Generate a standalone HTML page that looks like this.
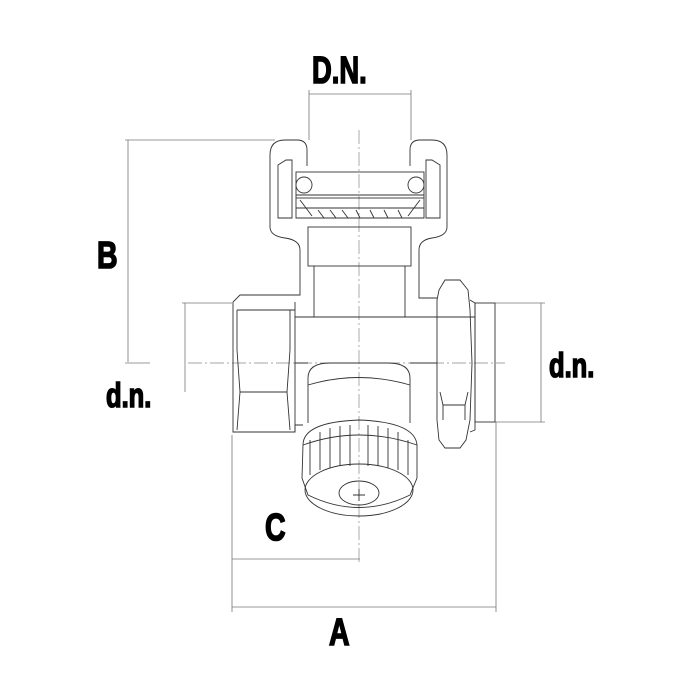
<!DOCTYPE html>
<html><head><meta charset="utf-8"><style>
html,body{margin:0;padding:0;background:#fff;width:700px;height:700px;overflow:hidden}
svg{display:block}
text{font-family:"Liberation Sans",sans-serif;font-weight:bold;fill:#000;stroke:#000;stroke-width:1.6}
</style></head><body>
<svg width="700" height="700" viewBox="0 0 700 700" xmlns="http://www.w3.org/2000/svg">
<g stroke="#777" stroke-width="0.8" fill="none">
<line x1="309" y1="94" x2="411" y2="94"/>
<line x1="309" y1="90" x2="309" y2="140"/>
<line x1="411" y1="90" x2="411" y2="140"/>
<line x1="125" y1="140" x2="275" y2="140"/>
<line x1="128" y1="140" x2="128" y2="362"/>
<line x1="125" y1="363" x2="150" y2="363"/>
<line x1="182" y1="303" x2="232" y2="303"/>
<line x1="185" y1="303" x2="185" y2="392"/>
<line x1="495" y1="303" x2="545" y2="303"/>
<line x1="495" y1="422" x2="545" y2="422"/>
<line x1="541" y1="303" x2="541" y2="422"/>
<line x1="232" y1="435" x2="232" y2="612"/>
<line x1="496" y1="422" x2="496" y2="612"/>
<line x1="232" y1="559" x2="360" y2="559"/>
<line x1="232" y1="607" x2="496" y2="607"/>
</g>
<g stroke="#888" stroke-width="0.7" fill="none" stroke-dasharray="14 3 2 3">
<line x1="359" y1="130" x2="359" y2="565"/>
<line x1="188" y1="363" x2="505" y2="363"/>
</g>
<g stroke="#333" stroke-width="0.9" fill="none">
<path d="M270 227 L270 155 Q270 140 285 140 L297 140 Q307 140 307 150 L307 166 M447 227 L447 155 Q447 140 432 140 L420 140 Q410 140 410 150 L410 166"/>
<path d="M270 227 Q270 236 285 238 Q300 240 300 250 L300 295 L240 295 L233 302 L233 432 L295 432 L295 425 L303 425 M447 227 Q447 236 432 238 Q419 240 419 250 L419 298 L437 298"/>
<path d="M278 218 L278 165 L286 160 L292 160 L292 218 Z M440 218 L440 165 L432 160 L426 160 L426 218 Z"/>
<rect x="296" y="172" width="128" height="26"/>
<circle cx="304" cy="185" r="8"/><circle cx="416" cy="185" r="8"/>
<line x1="296" y1="195" x2="424" y2="195"/>
<path d="M296 198 L296 218 L424 218 L424 198"/>
<path d="M300 200 L312 216 M420 200 L408 216 M318 210 L324 218 M330 210 L336 218 M342 210 L348 218 M356 210 L360 218 M370 210 L374 218 M384 210 L388 218 M398 210 L402 218"/>
<line x1="296" y1="208" x2="424" y2="208"/>
<rect x="308" y="227" width="103" height="39"/>
<line x1="314" y1="266" x2="314" y2="317"/>
<line x1="405" y1="266" x2="405" y2="317"/>
<path d="M295 317 L475 317 M295 363 L308 363 M410 363 L437 363"/>
<line x1="295" y1="302" x2="295" y2="432"/>
<line x1="237" y1="310" x2="295" y2="310"/>
<path d="M237 310 L237 350 L240 392 L237 430 M290 310 L290 350 L287 392 L290 430 M240 392 L287 392"/>
<path d="M445 280 L460 280 L468 290 L470 310 L472 363 L470 420 L466 440 L460 448 L445 448 L439 440 L437 420 L437 300 L439 290 Z"/>
<path d="M440 392 L443 405 L465 405 L468 392 M443 405 L443 420 M465 405 L465 420"/>
<path d="M470 300 L475 303 L475 430 L470 432"/>
<rect x="475" y="303" width="20" height="119"/>
<path d="M308 423 L308 378 Q308 363 330 363 L388 363 Q410 363 410 378 L410 423"/>
<path d="M308 385 Q359 370 410 385"/>
<path d="M303 445 Q303 422 359 420 Q415 422 417 445 L417 478 L410 495 Q359 520 308 495 L302 478 Z"/>
<path d="M303 445 Q359 425 417 445"/>
<path d="M310 440 L310 475 M320 432 L320 470 M330 428 L330 468 M340 426 L340 466 M350 425 L350 466 M368 425 L368 466 M378 426 L378 466 M388 428 L388 468 M398 432 L398 470 M408 440 L408 475"/>
<ellipse cx="359" cy="490" rx="54" ry="26"/>
<ellipse cx="359" cy="493" rx="20" ry="12"/>
<path d="M353 495 L365 495 M359 489 L359 501"/>
</g>
<g>
<text x="0" y="0" font-size="38" transform="translate(312,83) scale(0.72,1)">D.N.</text>
<text x="0" y="0" font-size="38" transform="translate(97,268) scale(0.75,1)">B</text>
<text x="0" y="0" font-size="34" transform="translate(106,407) scale(0.75,1)">d.n.</text>
<text x="0" y="0" font-size="34" transform="translate(549,377) scale(0.75,1)">d.n.</text>
<text x="0" y="0" font-size="38" transform="translate(265,540) scale(0.75,1)">C</text>
<text x="0" y="0" font-size="38" transform="translate(329,645) scale(0.75,1)">A</text>
</g>
</svg>
</body></html>
